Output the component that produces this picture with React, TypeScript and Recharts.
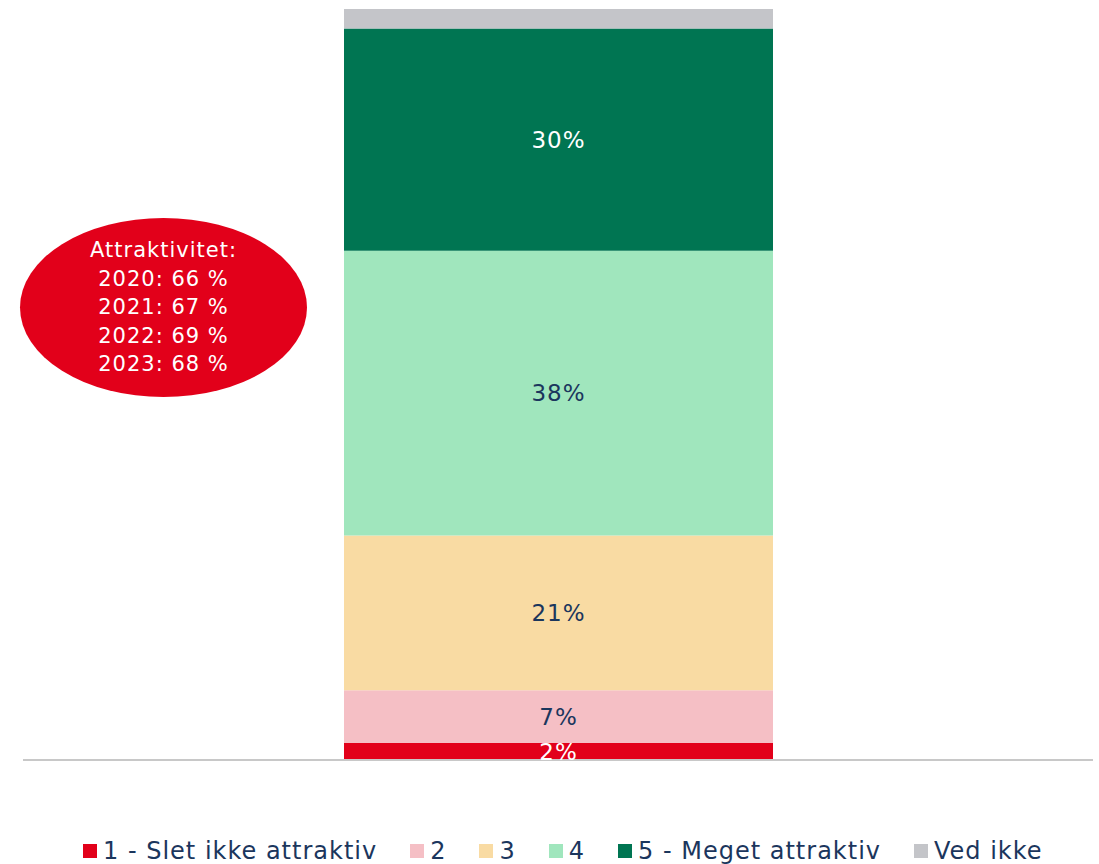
import { BarChart, Bar, XAxis, YAxis, LabelList } from "recharts";

const categories = ["2023"];
const seriesNames = ["1 - Slet ikke attraktiv", "2", "3", "4", "5 - Meget attraktiv", "Ved ikke"];
const seriesKeys = ["s1", "s2", "s3", "s4", "s5", "dk"];
const seriesValues = [2.3, 7.0, 20.6, 37.9, 29.6, 2.6];
const seriesColors = ["#E2001A", "#F5BFC5", "#F9DBA3", "#A0E6BD", "#007552", "#C4C5C9"];
const labelColors = ["#FFFFFF", "#1B365D", "#1B365D", "#1B365D", "#FFFFFF", null];
const noteLines = ["Attraktivitet:", "2020: 66 %", "2021: 67 %", "2022: 69 %", "2023: 68 %"];

const FONT = "'DejaVu Sans', sans-serif";
const NAVY = "#1B365D";

const data = categories.map((name) => {
  const row: Record<string, string | number> = { name };
  seriesKeys.forEach((k, i) => {
    row[k] = seriesValues[i];
  });
  return row;
});

function ChartLegend() {
  return (
    <div
      style={{
        position: "absolute",
        left: 83,
        top: 838,
        display: "flex",
        gap: 33,
        fontFamily: FONT,
        fontSize: 24,
        letterSpacing: 1,
        color: NAVY,
        lineHeight: "26px",
        whiteSpace: "nowrap",
      }}
    >
      {seriesNames.map((n, i) => (
        <div key={n} style={{ display: "flex", alignItems: "center", gap: 6 }}>
          <span style={{ width: 14, height: 14, background: seriesColors[i], display: "inline-block" }} />
          <span>{n}</span>
        </div>
      ))}
    </div>
  );
}

export default function App() {
  return (
    <div style={{ position: "absolute", left: 0, top: 0, width: 1099, height: 864, background: "#fff" }}>
      <style>{"body{margin:0}"}</style>
      <BarChart
        width={1099}
        height={864}
        data={data}
        margin={{ top: 9, right: 6, left: 23, bottom: 103 }}
      >
        <XAxis
          dataKey="name"
          tick={false}
          tickLine={false}
          height={1}
          axisLine={{ stroke: "#C8C8C8", strokeWidth: 2 }}
        />
        <YAxis hide domain={[0, 100]} />
        {seriesKeys.map((k, i) => (
          <Bar
            key={k}
            dataKey={k}
            name={seriesNames[i]}
            stackId="a"
            fill={seriesColors[i]}
            barSize={429}
            isAnimationActive={false}
          >
            {labelColors[i] && (
              <LabelList
                dataKey={k}
                position="center"
                formatter={(v: number) => `${Math.round(v)}%`}
                style={{ fill: labelColors[i] as string, fontFamily: FONT, fontSize: 23, letterSpacing: 1 }}
              />
            )}
          </Bar>
        ))}
      </BarChart>
      <ChartLegend />
      <div
        style={{
          position: "absolute",
          left: 20,
          top: 218,
          width: 287,
          height: 179,
          borderRadius: "50%",
          background: "#E2001A",
          color: "#fff",
          fontFamily: FONT,
          fontSize: 21,
          letterSpacing: 1,
          lineHeight: "28.5px",
          display: "flex",
          flexDirection: "column",
          alignItems: "center",
          justifyContent: "center",
        }}
      >
        {noteLines.map((l) => (
          <div key={l}>{l}</div>
        ))}
      </div>
    </div>
  );
}
